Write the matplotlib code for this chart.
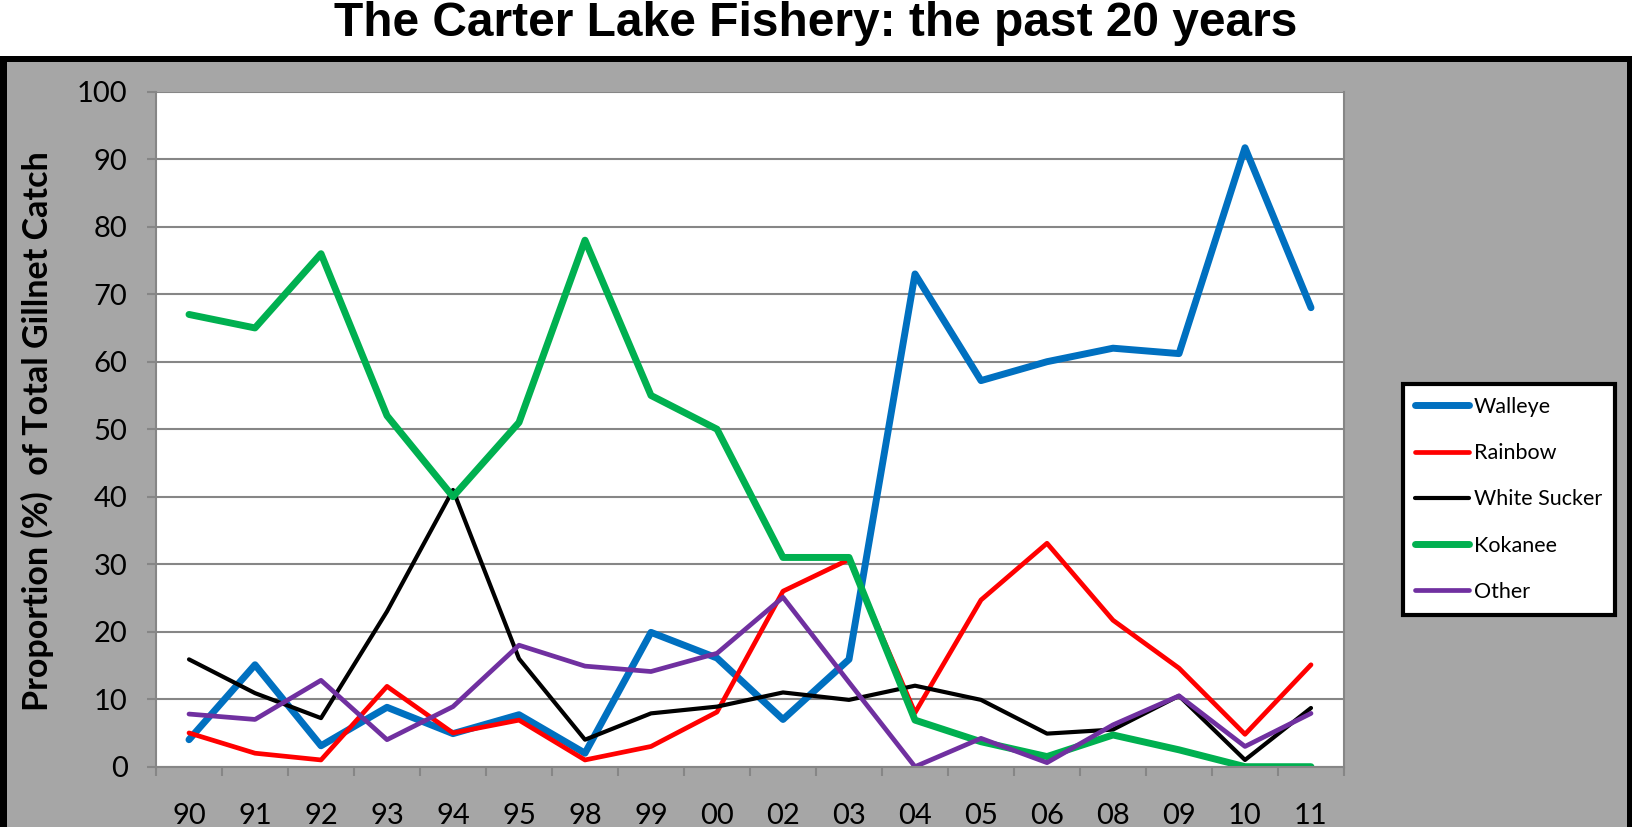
import numpy as np
import matplotlib.pyplot as plt
from matplotlib.patches import Rectangle

years = ['90', '91', '92', '93', '94', '95', '98', '99', '00',
         '02', '03', '04', '05', '06', '08', '09', '10', '11']

walleye = [4, 15.1, 3.1, 8.8, 4.9, 7.7, 2.0, 19.9, 16.1,
           7.0, 15.9, 73, 57.2, 60, 62, 61.2, 91.7, 68]
rainbow = [5, 2, 1, 11.9, 5, 6.9, 1, 3, 8.1,
           26, 30.7, 8, 24.7, 33.1, 21.7, 14.6, 4.8, 15.1]
white_sucker = [15.9, 10.9, 7.2, 23, 41, 16, 4, 7.9, 8.9,
                11, 9.9, 12, 9.9, 4.9, 5.5, 10.5, 1.0, 8.7]
kokanee = [67, 65, 76, 52, 40, 51, 78, 55, 50,
           31, 31, 6.9, 3.7, 1.5, 4.7, 2.5, 0, 0]
other = [7.8, 7, 12.8, 4, 8.9, 18, 14.9, 14.1, 16.8,
         25.1, 12.5, 0, 4.2, 0.6, 6.2, 10.5, 3.0, 7.9]

series = [('Walleye', walleye, '#0070C0', 5.0),
          ('Rainbow', rainbow, '#FF0000', 3.4),
          ('White Sucker', white_sucker, '#000000', 3.0),
          ('Kokanee', kokanee, '#00B050', 5.0),
          ('Other', other, '#7030A0', 3.4)]

plt.rcParams['font.family'] = ['Lato', 'DejaVu Sans']

W, H = 1632, 827
fig = plt.figure(figsize=(W / 100, H / 100), dpi=100)
fig.patch.set_facecolor('white')

# black framed gray panel below the title
fig.add_artist(Rectangle((0, 0), 1, (H - 56) / H, transform=fig.transFigure,
                         facecolor='black', edgecolor='none', zorder=-2))
fig.add_artist(Rectangle((7 / W, 0), (W - 12) / W, (H - 62) / H,
                         transform=fig.transFigure,
                         facecolor='#A6A6A6', edgecolor='none', zorder=-1))

ax = fig.add_axes([156 / W, 60.3 / H, 1188 / W, 675 / H])
ax.set_facecolor('white')

x = np.arange(len(years))
for name, vals, col, lw in series:
    ax.plot(x, vals, color=col, lw=lw, label=name,
            solid_capstyle='round', solid_joinstyle='round')

ax.set_xlim(-0.5, len(years) - 0.5)
ax.set_ylim(0, 100)
ax.set_yticks(np.arange(0, 101, 10))
ax.set_xticks(x)
ax.set_xticklabels(years)
ax.set_xticks(np.arange(-0.5, len(years), 1), minor=True)

ax.yaxis.grid(True, color='#868686', lw=1.5)
ax.set_axisbelow(True)
for s in ax.spines.values():
    s.set_color('#868686')
    s.set_linewidth(1.5)
ax.spines['top'].set_visible(False)

ax.tick_params(axis='y', length=6.5, width=1.5, color='#868686',
               labelsize=21, pad=14)
ax.tick_params(axis='x', which='major', length=0, labelsize=21, pad=26)
ax.tick_params(axis='x', which='minor', length=6.5, width=1.5,
               color='#868686')

fig.text(816 / W, 1 - 23 / H, 'The Carter Lake Fishery: the past 20 years',
         family='Liberation Sans', weight='bold', size=34.5,
         ha='center', va='center')
fig.text(37 / W, 1 - 431 / H, 'Proportion (%)  of Total Gillnet Catch',
         rotation=90, weight='bold', size=24.5, ha='center', va='center')

leg = fig.legend(loc='upper left', bbox_to_anchor=(1402.5 / W, 1 - 384 / H),
                 fontsize=15.5, frameon=True, fancybox=False,
                 edgecolor='black', framealpha=1, handlelength=2.5,
                 handletextpad=0.2, labelspacing=1.22, borderpad=0.6,
                 borderaxespad=0)
leg.get_frame().set_linewidth(3)

fig.savefig('out.png', dpi=100)
